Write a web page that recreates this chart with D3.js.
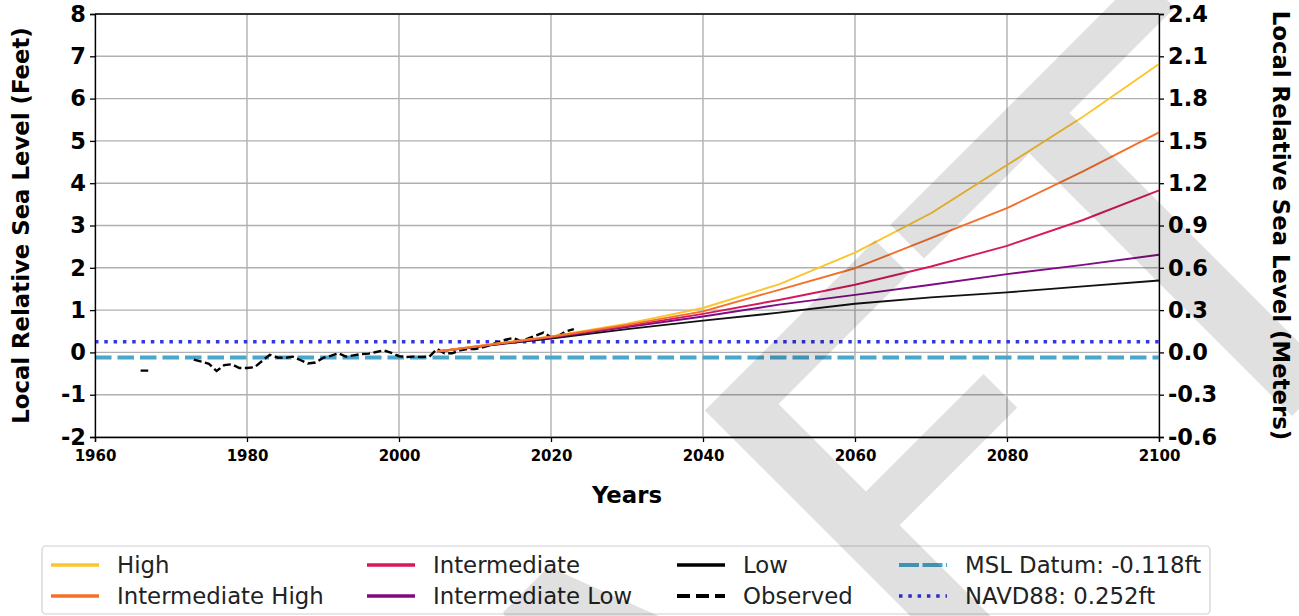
<!DOCTYPE html>
<html><head><meta charset="utf-8">
<script src="https://cdn.jsdelivr.net/npm/d3@7"></script>
<style>
body{margin:0;background:#fff}
svg{display:block}
text{font-family:"DejaVu Sans",sans-serif}
</style></head>
<body><svg id="c" width="1299" height="616"></svg>
<script>
// ---- data ----
const projYears = [2005, 2020, 2030, 2040, 2050, 2060, 2070, 2080, 2090, 2100];
const high      = [0.02, 0.38, 0.68, 1.05, 1.61, 2.36, 3.29, 4.43, 5.57, 6.82];
const intHigh   = [0.02, 0.37, 0.65, 0.97, 1.48, 1.99, 2.70, 3.41, 4.28, 5.20];
const intermed  = [0.02, 0.36, 0.62, 0.91, 1.24, 1.60, 2.03, 2.52, 3.13, 3.83];
const intLow    = [0.02, 0.35, 0.60, 0.85, 1.13, 1.36, 1.60, 1.85, 2.07, 2.31];
const low       = [0.02, 0.33, 0.55, 0.75, 0.94, 1.15, 1.30, 1.42, 1.56, 1.70];

const obsYears = [1966,1967,1968,1969,1970,1971,1972,1973,1974,1975,1976,1977,1978,1979,1980,
  1981,1982,1983,1984,1985,1986,1987,1988,1989,1990,1991,1992,1993,1994,1995,1996,1997,1998,1999,
  2000,2001,2002,2003,2004,2005,2006,2007,2008,2009,2010,2011,2012,2013,2014,2015,2016,2017,2018,
  2019,2020,2021,2022,2023];
const observed = [-0.43,-0.43,null,null,null,null,null,-0.17,-0.22,-0.27,-0.44,-0.30,-0.28,-0.37,-0.37,
  -0.35,-0.20,-0.06,-0.12,-0.13,-0.10,-0.18,-0.26,-0.24,-0.13,-0.08,-0.02,-0.10,-0.07,-0.04,-0.03,0.01,0.05,-0.01,
  -0.09,-0.11,-0.10,-0.11,-0.10,0.08,-0.02,-0.02,0.05,0.08,0.08,0.12,0.17,0.24,0.30,0.34,0.27,0.33,0.40,
  0.47,0.36,0.40,0.50,0.55];

const mslDatum = -0.118;
const navd88 = 0.252;

const xTicks = [1960, 1980, 2000, 2020, 2040, 2060, 2080, 2100];
const ftTicks = [-2, -1, 0, 1, 2, 3, 4, 5, 6, 7, 8];
const mTicks = [-0.6, -0.3, 0.0, 0.3, 0.6, 0.9, 1.2, 1.5, 1.8, 2.1, 2.4];

const seriesNames = ["High", "Intermediate High", "Intermediate", "Intermediate Low", "Low"];
const seriesColors = ["#fcc42d", "#f4702a", "#d6195b", "#7f0b83", "#111111"];
const seriesValues = [high, intHigh, intermed, intLow, low];

// ---- chart ----
const svg = d3.select("#c");
const L = 95, R = 1159, T = 14, B = 437;
const x = d3.scaleLinear().domain([1960, 2100]).range([L, R]);
const y = d3.scaleLinear().domain([-2, 8]).range([B, T]);
const ym = d3.scaleLinear().domain([-0.6, 2.4]).range([B, T]);

svg.append("rect").attr("width",1299).attr("height",616).attr("fill","#fff");

// grid
const g = svg.append("g");
g.selectAll(".gx").data(xTicks).join("line")
  .attr("x1", d=>x(d)).attr("x2", d=>x(d)).attr("y1", T).attr("y2", B)
  .attr("stroke", "#b0b0b0").attr("stroke-width", 1.4);
g.selectAll(".gy").data(ftTicks).join("line")
  .attr("x1", L).attr("x2", R).attr("y1", d=>y(d)).attr("y2", d=>y(d))
  .attr("stroke", "#b0b0b0").attr("stroke-width", 1.4);

// datum lines
svg.append("line").attr("x1", L).attr("x2", R).attr("y1", y(mslDatum)).attr("y2", y(mslDatum))
  .attr("stroke", "#4ba6cc").attr("stroke-width", 4).attr("stroke-dasharray", "16.5,6");
svg.append("line").attr("x1", L).attr("x2", R).attr("y1", y(navd88)).attr("y2", y(navd88))
  .attr("stroke", "#3434e8").attr("stroke-width", 3.5).attr("stroke-dasharray", "3.5,5.8");

// observed
const obsData = obsYears.map((yr,i)=>({yr, v: observed[i]}));
svg.append("path").datum(obsData)
  .attr("d", d3.line().defined(d=>d.v!==null).x(d=>x(d.yr)).y(d=>y(d.v)))
  .attr("fill","none").attr("stroke","#000").attr("stroke-width",2.4)
  .attr("stroke-dasharray","8,3.5");

// projections
const drawOrder = [4, 3, 2, 0, 1];
drawOrder.forEach(k=>{
  const data = projYears.map((yr,i)=>({yr, v: seriesValues[k][i]}));
  svg.append("path").datum(data)
    .attr("d", d3.line().x(d=>x(d.yr)).y(d=>y(d.v)))
    .attr("fill","none").attr("stroke", seriesColors[k]).attr("stroke-width", 1.9)
    .attr("stroke-linejoin","round");
});

// axes
const axL = svg.append("g").attr("transform",`translate(${L},0)`)
  .call(d3.axisLeft(y).tickValues(ftTicks).tickSize(5).tickPadding(4).tickFormat(d3.format("d")));
const axR = svg.append("g").attr("transform",`translate(${R},0)`)
  .call(d3.axisRight(ym).tickValues(mTicks).tickSize(5).tickPadding(4).tickFormat(d3.format(".1f")));
const axB = svg.append("g").attr("transform",`translate(0,${B})`)
  .call(d3.axisBottom(x).tickValues(xTicks).tickSize(5).tickPadding(8).tickFormat(d3.format("d")));
svg.append("line").attr("x1",L).attr("x2",R).attr("y1",T).attr("y2",T).attr("stroke","#000").attr("stroke-width",1.3);
[axL, axR, axB].forEach(a=>{
  a.selectAll("path").attr("stroke","#000").attr("stroke-width",1.3);
  a.selectAll("line").attr("stroke","#000").attr("stroke-width",1.3);
  a.selectAll("text").attr("fill","#000").style("font-family","'DejaVu Sans'").style("font-weight","bold");
});
axL.selectAll("text").style("font-size","22.5px").text(d=>d<0?"-"+Math.abs(d):d);
axR.selectAll("text").style("font-size","22.5px").text(d=>{const s=Math.abs(d).toFixed(1);return d<0?"-"+s:s;});
axB.selectAll("text").style("font-size","15px");

// axis labels
svg.append("text").attr("x", (L+R)/2).attr("y", 503).attr("text-anchor","middle")
  .style("font-size","22.8px").style("font-weight","bold").text("Years");
svg.append("text").attr("transform",`translate(29,${(T+B)/2}) rotate(-90)`).attr("text-anchor","middle")
  .style("font-size","22.8px").style("font-weight","bold").text("Local Relative Sea Level (Feet)");
svg.append("text").attr("transform",`translate(1273,${(T+B)/2}) rotate(90)`).attr("text-anchor","middle")
  .style("font-size","22.8px").style("font-weight","bold").text("Local Relative Sea Level (Meters)");

// legend
const lg = svg.append("g");
lg.append("rect").attr("x",42).attr("y",546).attr("width",1168).attr("height",68).attr("rx",4)
  .attr("fill","#fff").attr("fill-opacity",0.8).attr("stroke","#d0d0d0").attr("stroke-width",1.2);
const legendItems = [
  {name:"High", color:seriesColors[0], dash:null, w:3.5},
  {name:"Intermediate High", color:seriesColors[1], dash:null, w:3.5},
  {name:"Intermediate", color:seriesColors[2], dash:null, w:3.5},
  {name:"Intermediate Low", color:seriesColors[3], dash:null, w:3.5},
  {name:"Low", color:"#000", dash:null, w:3.5},
  {name:"Observed", color:"#000", dash:"13,6", w:4},
  {name:"MSL Datum: -0.118ft", color:"#4ba6cc", dash:"20,3.5", w:4},
  {name:"NAVD88: 0.252ft", color:"#3434e8", dash:"3.5,5.8", w:3.5}
];
const colX = [117, 433, 743, 965];
const rowY = [565, 596];
legendItems.forEach((it,i)=>{
  const c = Math.floor(i/2), r = i%2;
  const tx = colX[c], gy = rowY[r];
  lg.append("line").attr("x1",tx-66).attr("x2",tx-18).attr("y1",gy).attr("y2",gy)
    .attr("stroke",it.color).attr("stroke-width",it.w).attr("stroke-dasharray",it.dash);
  lg.append("text").attr("x",tx).attr("y",gy).attr("dy","0.36em")
    .style("font-size","22.8px").attr("fill","#222").text(it.name);
});

// watermark
svg.append("text").attr("transform","translate(104,1604) rotate(-45)")
  .attr("text-anchor","start")
  .style("font-size","575px").attr("fill","#000").attr("fill-opacity",0.12)
  .text("DRAFT");
</script></body></html>
